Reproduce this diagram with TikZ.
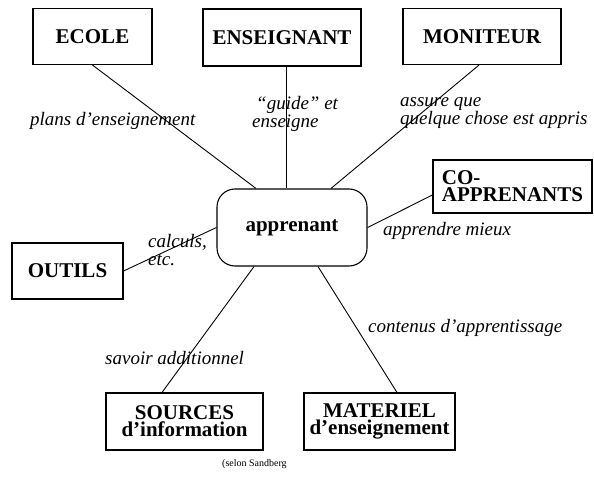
\documentclass[tikz,border=0pt]{standalone}
\usepackage{fontspec}
\setmainfont{Liberation Serif}
\usetikzlibrary{calc}
\begin{document}
\begin{tikzpicture}[x=1pt,y=-1pt,
  box/.style={draw, line width=1.1pt, inner sep=0pt, align=center,
    font=\fontsize{21}{17}\selectfont\bfseries},
  hub/.style={box, rounded corners=18pt},
  lbl/.style={inner sep=0pt, align=left, anchor=base west,
    font=\fontsize{19}{18}\selectfont\itshape},
  link/.style={line width=0.9pt},
  note/.style={inner sep=0pt, anchor=base west, font=\fontsize{10}{12}\selectfont}]
\useasboundingbox (0,0) rectangle (594,492);

% central node
\node[hub, minimum width=150, minimum height=77] (appr) at (292,227.5) {apprenant};

% surrounding boxes
\node[box, minimum width=119, minimum height=56] (ecole) at (92.5,36.5) {ECOLE};
\node[box, minimum width=158, minimum height=57] (ens) at (282,37.5) {ENSEIGNANT};
\node[box, minimum width=158, minimum height=56] (mon) at (482,36.5) {MONITEUR};
\node[box, minimum width=159, minimum height=53, align=left] (coap) at (512.5,186.5) {CO-\\APPRENANTS};
\node[box, minimum width=111, minimum height=56] (outils) at (67.5,271) {OUTILS};
\node[box, minimum width=157, minimum height=57] (src) at (184.5,421.5) {SOURCES\\d’information};
\node[box, minimum width=151, minimum height=57] (mat) at (379.5,421.5) {MATERIEL\\d’enseignement};

% connectors
\draw[link] (ecole.south) -- ($(appr.north)+(-36,0)$);
\draw[link] ($(ens.south)+(4,0)$) coordinate (e1) -- (e1 |- appr.north);
\draw[link] ($(mon.south)+(-3,0)$) -- ($(appr.north)+(39,0)$);
\draw[link] ($(coap.west)+(0,8.5)$) -- (appr.east);
\draw[link] (outils.east) -- (appr.west);
\draw[link] ($(appr.south)+(-38,0)$) -- ($(src.north)+(-22.5,0)$);
\draw[link] ($(appr.south)+(26,0)$) -- ($(mat.north)+(17.5,0)$);

% connector labels
\node[lbl] (l1) at (30,125) {plans d’enseignement};
\node[lbl, anchor=north west] (l2) at (252,96) {\hspace*{4pt}“guide” et\\enseigne};
\node[lbl, anchor=north west] (l3) at (400,97) {assure que\\quelque chose est appris};
\node[lbl, anchor=north west] (l4) at (148,234) {calculs,\\etc.};
\node[lbl] (l5) at (383,235) {apprendre mieux};
\node[lbl] (l6) at (105,364) {savoir additionnel};
\node[lbl] (l7) at (368,332) {contenus d’apprentissage};

\node[note] (src-note) at (222,466) {(selon Sandberg};
\end{tikzpicture}
\end{document}
